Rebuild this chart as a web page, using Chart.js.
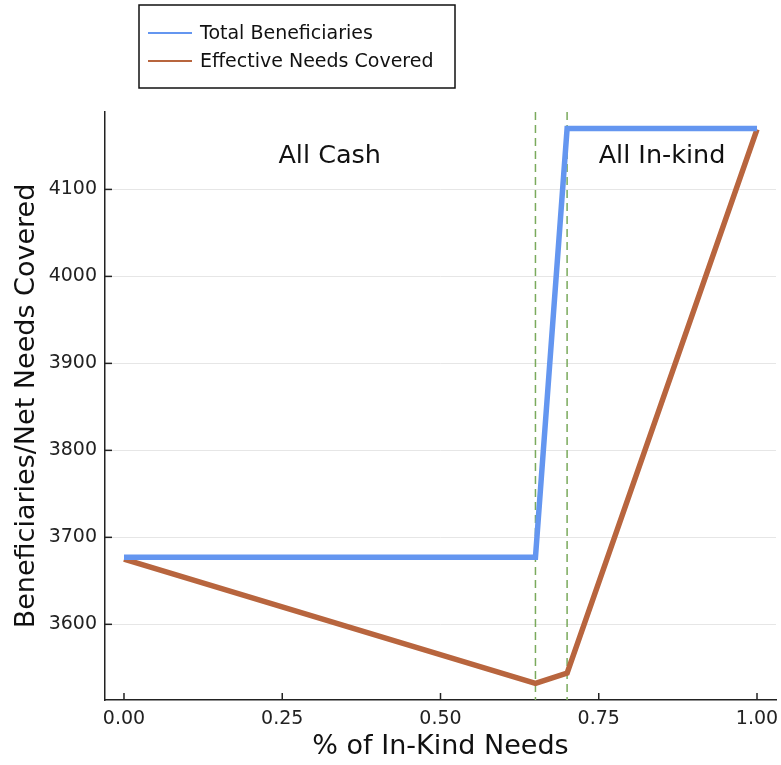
<!DOCTYPE html>
<html lang="en">
<head>
    <meta charset="UTF-8">
    <title>In-Kind Needs</title>
    <script src="https://cdn.jsdelivr.net/npm/chart.js"></script>
    <style>
        body {
            margin: 0;
            background: white;
        }
        .chart-container {
            width: 781px;
            height: 765px;
        }
    </style>
</head>
<body>
    <div class="chart-container">
        <canvas id="myChart"></canvas>
    </div>

    <script>
        // values
        const inKindShare = [0, 0.65, 0.70, 1.0];
        const totalBeneficiaries = [3677, 3677, 4170, 4170];
        const effectiveNeeds = [3675, 3532, 3544, 4169];
        const cutoffs = [0.65, 0.70];
        const yTicks = [3600, 3700, 3800, 3900, 4000, 4100];
        const xTicks = [0, 0.25, 0.5, 0.75, 1.0];
        const regionLabels = ['All Cash', 'All In-kind'];
        const regionX = [0.325, 0.85];
        const regionY = [4138, 4138];

        const FONT = 'DejaVu Sans, sans-serif';

        const toPoints = ys => inKindShare.map((x, i) => ({ x: x, y: ys[i] }));

        // dashed green cutoff lines
        const cutoffLines = {
            id: 'cutoffLines',
            beforeDatasetsDraw(chart) {
                const { ctx, chartArea, scales } = chart;
                ctx.save();
                ctx.strokeStyle = '#7aaa5c';
                ctx.lineWidth = 1.5;
                ctx.setLineDash([8, 5]);
                cutoffs.forEach(c => {
                    const px = scales.x.getPixelForValue(c);
                    ctx.beginPath();
                    ctx.moveTo(px, chartArea.top);
                    ctx.lineTo(px, chartArea.bottom);
                    ctx.stroke();
                });
                ctx.restore();
            }
        };

        // text labels, inward tick marks and the boxed legend
        const extras = {
            id: 'extras',
            afterDraw(chart) {
                const { ctx, chartArea, scales } = chart;
                ctx.save();
                ctx.fillStyle = '#111';
                ctx.font = '25.5px ' + FONT;
                ctx.textAlign = 'center';
                ctx.textBaseline = 'middle';
                regionLabels.forEach((t, i) => {
                    ctx.fillText(t, scales.x.getPixelForValue(regionX[i]), scales.y.getPixelForValue(regionY[i]));
                });

                ctx.strokeStyle = '#222';
                ctx.lineWidth = 1.5;
                scales.y.ticks.forEach(t => {
                    const py = scales.y.getPixelForValue(t.value);
                    ctx.beginPath();
                    ctx.moveTo(chartArea.left, py);
                    ctx.lineTo(chartArea.left + 7, py);
                    ctx.stroke();
                });
                scales.x.ticks.forEach(t => {
                    const px = scales.x.getPixelForValue(t.value);
                    ctx.beginPath();
                    ctx.moveTo(px, chartArea.bottom);
                    ctx.lineTo(px, chartArea.bottom - 7);
                    ctx.stroke();
                });

                // legend
                ctx.strokeStyle = '#111';
                ctx.lineWidth = 1.5;
                ctx.fillStyle = 'white';
                ctx.fillRect(139, 5, 316, 83);
                ctx.strokeRect(139, 5, 316, 83);
                ctx.font = '19px ' + FONT;
                ctx.textAlign = 'left';
                chart.data.datasets.forEach((ds, i) => {
                    const y = 33 + i * 28;
                    ctx.strokeStyle = ds.borderColor;
                    ctx.lineWidth = 2;
                    ctx.beginPath();
                    ctx.moveTo(148, y);
                    ctx.lineTo(192, y);
                    ctx.stroke();
                    ctx.fillStyle = '#111';
                    ctx.fillText(ds.label, 200, y + 1);
                });
                ctx.restore();
            }
        };

        const ctx = document.getElementById('myChart').getContext('2d');
        new Chart(ctx, {
            type: 'line',
            data: {
                datasets: [
                    {
                        label: 'Total Beneficiaries',
                        data: toPoints(totalBeneficiaries),
                        borderColor: '#6496f0',
                        borderWidth: 5.5,
                        pointRadius: 0,
                        fill: false,
                        tension: 0
                    },
                    {
                        label: 'Effective Needs Covered',
                        data: toPoints(effectiveNeeds),
                        borderColor: '#b8653e',
                        borderWidth: 5.5,
                        pointRadius: 0,
                        fill: false,
                        tension: 0
                    }
                ]
            },
            options: {
                responsive: true,
                maintainAspectRatio: false,
                animation: false,
                layout: { padding: { top: 112, right: 5, left: 0, bottom: 0 } },
                plugins: {
                    legend: { display: false },
                    tooltip: { enabled: false }
                },
                scales: {
                    x: {
                        type: 'linear',
                        min: -0.03,
                        max: 1.03,
                        afterBuildTicks: s => { s.ticks = xTicks.map(v => ({ value: v })); },
                        afterFit: s => { s.height = 65; s.paddingLeft = 0; s.paddingRight = 0; },
                        grid: { display: false, drawTicks: false },
                        border: { color: '#222', width: 1.5 },
                        ticks: {
                            color: '#222',
                            padding: 8,
                            font: { family: FONT, size: 19 },
                            callback: v => Number(v).toFixed(2)
                        },
                        title: {
                            display: true,
                            text: '% of In-Kind Needs',
                            color: '#111',
                            font: { family: FONT, size: 27 },
                            padding: { top: 0, bottom: 2 }
                        }
                    },
                    y: {
                        min: 3513,
                        max: 4189,
                        afterBuildTicks: s => { s.ticks = yTicks.map(v => ({ value: v })); },
                        afterFit: s => { s.width = 105; },
                        grid: { color: '#e6e6e6', lineWidth: 1, drawTicks: false },
                        border: { color: '#222', width: 1.5 },
                        ticks: {
                            color: '#222',
                            padding: 8,
                            font: { family: FONT, size: 19 },
                            callback: v => String(v)
                        },
                        title: {
                            display: true,
                            text: 'Beneficiaries/Net Needs Covered',
                            color: '#111',
                            font: { family: FONT, size: 27 },
                            padding: { top: 11, bottom: 0 }
                        }
                    }
                }
            },
            plugins: [cutoffLines, extras]
        });
    </script>
</body>
</html>
